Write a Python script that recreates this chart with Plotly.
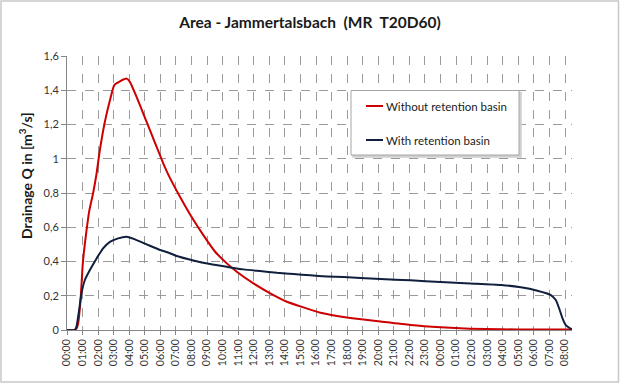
import plotly.graph_objects as go

# ---- data ----
tick_hours = list(range(0, 33))
tick_labels = [f"{h % 24:02d}:00" for h in range(0, 33)]

red_hours = [0, 0.5, 0.62, 0.72, 0.87, 1.0, 1.08, 1.21, 1.42, 1.68, 1.9, 2.11, 2.43, 2.76, 3.04, 3.4, 3.83,
             4.04, 4.47, 4.9, 5.33, 5.76, 6.19, 6.58, 7.26, 8.0, 8.76, 9.52, 10.27, 10.91, 11.98,
             13.06, 14.13, 15.2, 16.28, 17.35, 18.2, 20.14, 22.07, 24.0, 25.9, 27.9, 30.0, 32.45]
red_q = [0, 0, 0.01, 0.04, 0.175, 0.37, 0.45, 0.55, 0.69, 0.80, 0.914, 1.05, 1.215, 1.342, 1.43, 1.452, 1.468,
         1.449, 1.361, 1.264, 1.167, 1.069, 0.972, 0.894, 0.778, 0.661, 0.554, 0.457, 0.389, 0.340, 0.272,
         0.214, 0.165, 0.132, 0.101, 0.082, 0.07, 0.049, 0.029, 0.016, 0.008, 0.004, 0.003, 0.003]

blue_hours = [0, 0.5, 0.61, 0.78, 0.93, 1.15, 1.47, 1.9, 2.32, 2.76, 3.29, 3.83, 4.37, 5.12, 5.98, 6.58,
              7.05, 8.12, 9.2, 10.27, 11.34, 12.41, 13.49, 14.56, 15.63, 16.71, 17.78, 18.85, 20.14,
              22.07, 24.0, 25.9, 27.9, 29.16, 30.23, 31.09, 31.41, 31.62, 31.84, 32.05, 32.27, 32.45]
blue_q = [0, 0, 0.02, 0.117, 0.214, 0.292, 0.35, 0.418, 0.477, 0.515, 0.535, 0.544, 0.529, 0.500, 0.467, 0.450,
          0.432, 0.406, 0.385, 0.369, 0.354, 0.344, 0.334, 0.327, 0.319, 0.313, 0.309, 0.303, 0.298,
          0.29, 0.28, 0.272, 0.263, 0.249, 0.229, 0.204, 0.175, 0.127, 0.068, 0.029, 0.013, 0.004]

series_names = ["Without retention basin", "With retention basin"]
series_colors = ["#cc0000", "#0f1f3d"]
title_text = "<b>Area - Jammertalsbach  (MR  T20D60)</b>"
ytitle_text = "<b>Drainage Q in [m<sup>3</sup>/s]</b>"

FONT = "Lato, 'Open Sans', sans-serif"

fig = go.Figure()
fig.add_trace(go.Scatter(x=red_hours, y=red_q, mode="lines", name=series_names[0],
                         line=dict(color=series_colors[0], width=2, shape="spline", smoothing=0.5),
                         showlegend=False))
fig.add_trace(go.Scatter(x=blue_hours, y=blue_q, mode="lines", name=series_names[1],
                         line=dict(color=series_colors[1], width=2, shape="spline", smoothing=0.5),
                         showlegend=False))

L, R, T, B = 67, 48, 56, 55
W, H = 620 - L - R, 385 - T - B

def px_x(x):
    return (x - L) / W

def px_y(y):
    return (385 - B - y) / H

shapes = []
# outer frame
shapes.append(dict(type="rect", xref="paper", yref="paper",
                   x0=px_x(1), x1=px_x(618.5), y0=px_y(382), y1=px_y(1),
                   line=dict(color="#c8c8c8", width=1.5), fillcolor="rgba(0,0,0,0)", layer="below"))
# legend box shadow + box
shapes.append(dict(type="rect", xref="paper", yref="paper",
                   x0=px_x(353), x1=px_x(521), y0=px_y(157), y1=px_y(92.5),
                   line=dict(color="#d0d0d0", width=1.5), fillcolor="#d0d0d0"))
shapes.append(dict(type="rect", xref="paper", yref="paper",
                   x0=px_x(351), x1=px_x(519), y0=px_y(155), y1=px_y(90.5),
                   line=dict(color="#a6a6a6", width=1), fillcolor="white"))
annotations = []
for i, (yy) in enumerate([106, 140]):
    shapes.append(dict(type="line", xref="paper", yref="paper",
                       x0=px_x(366), x1=px_x(383), y0=px_y(yy), y1=px_y(yy),
                       line=dict(color=series_colors[i], width=2)))
    annotations.append(dict(xref="paper", yref="paper", x=px_x(384), y=px_y(yy),
                            xanchor="left", yanchor="middle", showarrow=False,
                            text=series_names[i],
                            font=dict(family=FONT, size=11.5, color="#1a1a1a")))
annotations.append(dict(xref="paper", yref="paper", x=px_x(25), y=px_y(176),
                        xanchor="center", yanchor="middle", showarrow=False, textangle=-90,
                        text=ytitle_text, font=dict(family=FONT, size=14, color="#1a1a1a")))

fig.update_layout(
    width=620, height=385,
    margin=dict(l=L, r=R, t=T, b=B),
    paper_bgcolor="white", plot_bgcolor="white",
    separators=",.",
    font=dict(family=FONT, size=11, color="#333333"),
    title=dict(text=title_text, x=0.5, xanchor="center", y=1 - 23 / 385, yanchor="middle",
               font=dict(family=FONT, size=15.5, color="#1a1a1a")),
    shapes=shapes, annotations=annotations,
)
fig.update_xaxes(range=[0, 32.45], tickvals=tick_hours, ticktext=tick_labels, tickangle=-90,
                 showgrid=True, gridcolor="#9a9a9a", griddash="dash", gridwidth=1,
                 showline=True, linecolor="#868686", linewidth=1,
                 ticks="outside", ticklen=4, tickcolor="#868686", zeroline=False,
                 tickfont=dict(family=FONT, size=10.5, color="#333333"))
fig.update_yaxes(range=[0, 1.6], dtick=0.2, tick0=0,
                 showgrid=True, gridcolor="#9a9a9a", griddash="dash", gridwidth=1,
                 showline=True, linecolor="#868686", linewidth=1,
                 ticks="outside", ticklen=5, tickcolor="#868686", zeroline=False,
                 tickfont=dict(family=FONT, size=11, color="#333333"))

fig.write_html("out.html", config={"displayModeBar": False},
               post_script="document.body.style.margin='0';")
